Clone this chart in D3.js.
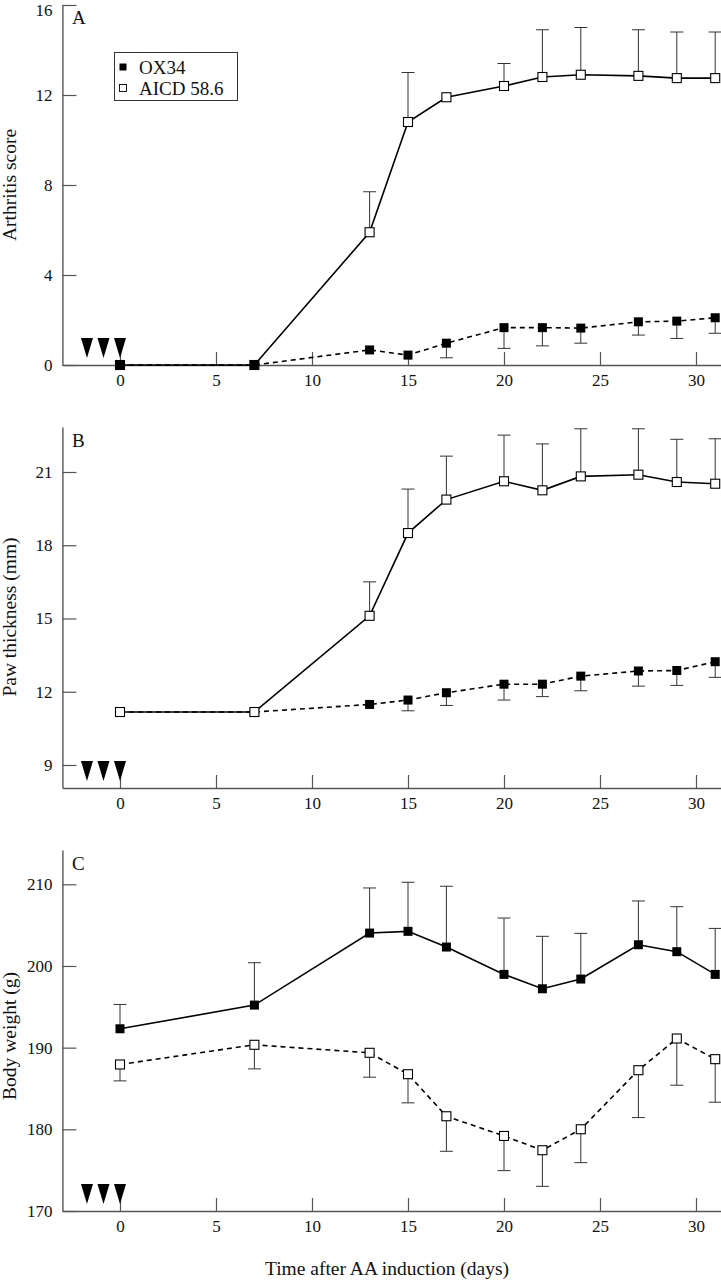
<!DOCTYPE html>
<html>
<head>
<meta charset="utf-8">
<script src="https://cdn.jsdelivr.net/npm/d3@7"></script>
<style>
  html, body { margin: 0; padding: 0; background: #fff; }
  svg { display: block; }
  text { font-family: "Liberation Serif", "Times New Roman", serif; fill: #111; }
</style>
</head>
<body>
<svg id="chart" width="721" height="1280"></svg>
<script>
// ---------- data ----------
const days = [0, 7, 13, 15, 17, 20, 22, 24, 27, 29, 31];
const injectionDays = [-1.72, -0.86, 0];
const xTicks = [0, 5, 10, 15, 20, 25, 30];
const seriesNames = ["OX34", "AICD 58.6"];

// Panel A: arthritis score
const arthritisOX34 = [0, 0, 0.67, 0.44, 0.97, 1.66, 1.66, 1.64, 1.92, 1.95, 2.1];
const arthritisOX34Err = [0, 0, 0, 0, 0.65, 0.92, 0.81, 0.67, 0.59, 0.77, 0.69];
const arthritisAICD = [0, 0, 5.9, 10.8, 11.9, 12.4, 12.8, 12.9, 12.85, 12.75, 12.75];
const arthritisAICDErr = [0, 0, 1.8, 2.2, 0, 1.0, 2.1, 2.1, 2.05, 2.05, 2.05];
const arthritisTicks = [0, 4, 8, 12, 16];

// Panel B: paw thickness (mm)
const pawOX34 = [11.17, 11.17, 11.48, 11.66, 11.96, 12.31, 12.31, 12.64, 12.85, 12.87, 13.23];
const pawOX34Err = [0, 0, 0, 0.44, 0.52, 0.65, 0.51, 0.6, 0.62, 0.61, 0.64];
const pawAICD = [11.17, 11.17, 15.11, 18.5, 19.87, 20.62, 20.25, 20.82, 20.89, 20.59, 20.52];
const pawAICDErr = [0, 0, 1.39, 1.8, 1.78, 1.89, 1.9, 1.95, 1.88, 1.75, 1.84];
const pawTicks = [9, 12, 15, 18, 21];

// Panel C: body weight (g)
const weightOX34 = [192.31, 195.21, 204.03, 204.24, 202.32, 198.97, 197.21, 198.4, 202.6, 201.75, 198.97];
const weightOX34Err = [2.98, 5.19, 5.52, 6.01, 7.44, 6.9, 6.42, 5.59, 5.36, 5.51, 5.63];
const weightAICD = [187.94, 190.35, 189.37, 186.75, 181.6, 179.19, 177.44, 180.01, 187.24, 191.12, 188.59];
const weightAICDErr = [2.01, 2.95, 2.99, 3.51, 4.29, 4.25, 4.42, 4.09, 5.8, 5.72, 5.27];
const weightTicks = [170, 180, 190, 200, 210];

// ---------- layout ----------
const svg = d3.select("#chart");
const AXIS_COLOR = "#555";
const x = d3.scaleLinear().domain([-3, 31.5]).range([62.4, 724.8]);

const panels = [
  {
    letter: "A", title: "Arthritis score", titleY: 185,
    domain: [0, 16], range: [365, 5], ticks: arthritisTicks, letterY: 24,
    series: [
      { name: "AICD 58.6", values: arthritisAICD, err: arthritisAICDErr, dir: 1, filled: false, dash: null },
      { name: "OX34", values: arthritisOX34, err: arthritisOX34Err, dir: -1, filled: true, dash: "5,4" }
    ],
    legend: true
  },
  {
    letter: "B", title: "Paw thickness (mm)", titleY: 617,
    domain: [8.058, 22.843], range: [788, 427], ticks: pawTicks, letterY: 447,
    series: [
      { name: "OX34", values: pawOX34, err: pawOX34Err, dir: -1, filled: true, dash: "5,4" },
      { name: "AICD 58.6", values: pawAICD, err: pawAICDErr, dir: 1, filled: false, dash: null }
    ]
  },
  {
    letter: "C", title: "Body weight (g)", titleY: 1036,
    domain: [170, 214.2], range: [1211, 850], ticks: weightTicks, letterY: 870,
    series: [
      { name: "AICD 58.6", values: weightAICD, err: weightAICDErr, dir: -1, filled: false, dash: "5,4" },
      { name: "OX34", values: weightOX34, err: weightOX34Err, dir: 1, filled: true, dash: null }
    ]
  }
];

const SQ = 9, CAP = 6.5;

panels.forEach(p => {
  const y = d3.scaleLinear().domain(p.domain).range(p.range);
  const g = svg.append("g");
  const axisY = p.range[0];

  // x axis
  const xa = g.append("g").attr("transform", `translate(0,${axisY})`)
    .call(d3.axisBottom(x).tickValues(xTicks).tickSizeInner(-13).tickSizeOuter(0).tickPadding(8.5));
  // y axis
  const ya = g.append("g").attr("transform", `translate(${x.range()[0]},0)`)
    .call(d3.axisLeft(y).tickValues(p.ticks).tickSizeInner(-14).tickSizeOuter(0).tickPadding(10));
  [xa, ya].forEach(a => {
    a.selectAll("path.domain").attr("stroke", AXIS_COLOR).attr("stroke-width", 1.4);
    a.selectAll(".tick line").attr("stroke", AXIS_COLOR).attr("stroke-width", 1.2);
    a.selectAll(".tick text").attr("font-family", "Liberation Serif, serif")
      .attr("font-size", 17).attr("fill", "#111");
  });
  // keep a tick label that sits at the very top edge inside the picture
  ya.selectAll(".tick text").filter(function () {
    const t = this.parentNode.getAttribute("transform");
    const ty = +/translate\([^,]+,([^)]+)\)/.exec(t)[1];
    return ty < 10;
  }).attr("y", 5);

  // y title
  g.append("text")
    .attr("transform", `translate(16,${p.titleY}) rotate(-90)`)
    .attr("text-anchor", "middle")
    .attr("font-size", 19.5)
    .text(p.title);

  // panel letter
  g.append("text").attr("x", 72).attr("y", p.letterY).attr("font-size", 19).text(p.letter);

  // injection triangles
  g.selectAll("path.inj").data(injectionDays).enter().append("path")
    .attr("class", "inj")
    .attr("d", d => {
      const cx = x(d), top = axisY - 27, tip = axisY - 7;
      return `M${cx - 6},${top}L${cx + 6},${top}L${cx},${tip}Z`;
    })
    .attr("fill", "#000");

  // series
  p.series.forEach(s => {
    const pts = days.map((d, i) => ({ d, v: s.values[i], e: s.err[i] }));
    const sg = g.append("g");
    // error bars
    const eb = sg.selectAll("g.eb").data(pts.filter(q => q.e > 0)).enter().append("g");
    eb.append("line")
      .attr("x1", q => x(q.d)).attr("x2", q => x(q.d))
      .attr("y1", q => y(q.v)).attr("y2", q => y(q.v + s.dir * q.e))
      .attr("stroke", "#333").attr("stroke-width", 1);
    eb.append("line")
      .attr("x1", q => x(q.d) - CAP).attr("x2", q => x(q.d) + CAP)
      .attr("y1", q => y(q.v + s.dir * q.e)).attr("y2", q => y(q.v + s.dir * q.e))
      .attr("stroke", "#333").attr("stroke-width", 1);
    // line
    sg.append("path")
      .datum(pts)
      .attr("d", d3.line().x(q => x(q.d)).y(q => y(q.v)))
      .attr("fill", "none").attr("stroke", "#000").attr("stroke-width", 1.6)
      .attr("stroke-dasharray", s.dash);
    // markers
    sg.selectAll("rect.m").data(pts).enter().append("rect")
      .attr("x", q => x(q.d) - SQ / 2).attr("y", q => y(q.v) - SQ / 2)
      .attr("width", SQ).attr("height", SQ)
      .attr("fill", s.filled ? "#000" : "#fff")
      .attr("stroke", "#000").attr("stroke-width", s.filled ? 0 : 1.1);
  });

  // legend
  if (p.legend) {
    const lg = g.append("g");
    lg.append("rect").attr("x", 114.5).attr("y", 52.5).attr("width", 123).attr("height", 48)
      .attr("fill", "#fff").attr("stroke", "#333").attr("stroke-width", 1);
    seriesNames.forEach((n, i) => {
      const yy = 67 + i * 21;
      lg.append("rect").attr("x", 119.5).attr("y", yy - 3.5).attr("width", 7).attr("height", 7)
        .attr("fill", i === 0 ? "#000" : "#fff").attr("stroke", "#000").attr("stroke-width", i === 0 ? 0 : 0.9);
      lg.append("text").attr("x", 139).attr("y", yy + 6.5).attr("font-size", 19).text(n);
    });
  }
});

// x title
svg.append("text").attr("x", 387).attr("y", 1275).attr("text-anchor", "middle")
  .attr("font-size", 19.5).text("Time after AA induction (days)");
</script>
</body>
</html>
